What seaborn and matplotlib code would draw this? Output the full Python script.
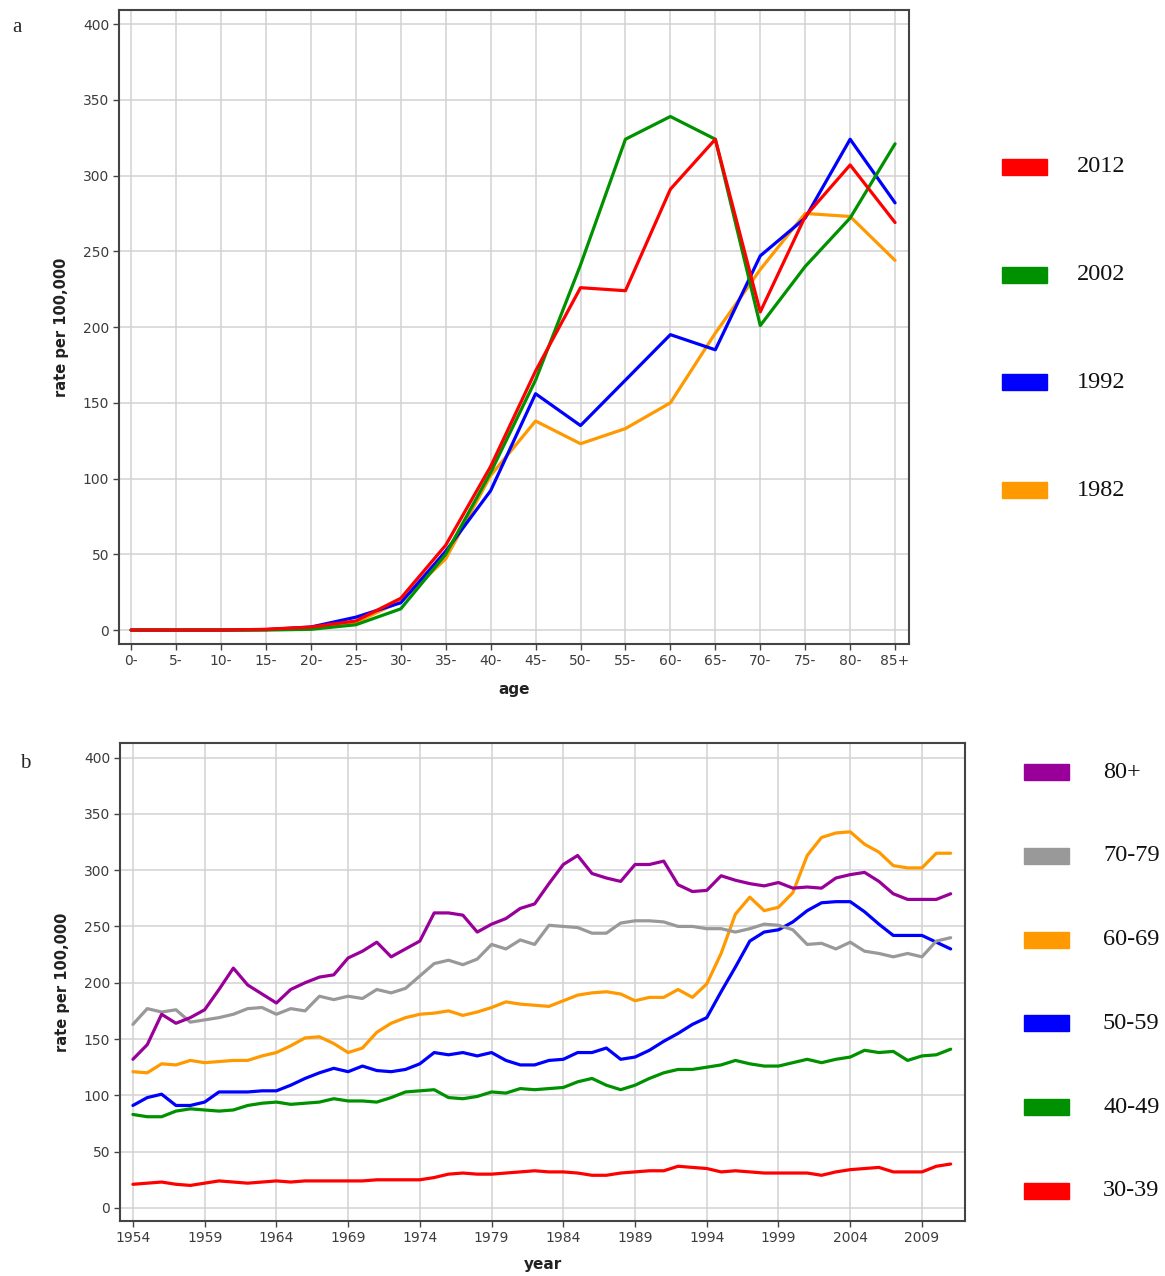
import matplotlib
matplotlib.use("Agg")
import numpy as np
import pandas as pd
import matplotlib.pyplot as plt
import seaborn as sns
from matplotlib.patches import Rectangle

# ---- panel a: rate by age group for four years ----
ages = ['0-', '5-', '10-', '15-', '20-', '25-', '30-', '35-', '40-', '45-',
        '50-', '55-', '60-', '65-', '70-', '75-', '80-', '85+']
rate_2012 = [0, 0, 0, 0.5, 2, 6, 21, 56, 108, 171, 226, 224, 291, 324, 210, 273, 307, 269]
rate_2002 = [0, 0, 0, 0, 0.5, 3.5, 14, 50, 104, 165, 241, 324, 339, 324, 201, 240, 272, 321]
rate_1992 = [0, 0, 0, 0.3, 2, 8.5, 18, 52, 92, 156, 135, 165, 195, 185, 247, 272, 324, 282]
rate_1982 = [0, 0, 0, 0.3, 1.5, 5, 19, 47, 102, 138, 123, 133, 150, 196, 238, 275, 273, 244]
years_a = ['2012', '2002', '1992', '1982']
colors_a = ['#ff0000', '#009100', '#0000ff', '#ff9900']

# ---- panel b: rate by calendar year for six age bands ----
years = list(range(1954, 2012))
r_80 = [132, 145, 172, 164, 169, 176, 194, 213, 198, 190,
        182, 194, 200, 205, 207, 222, 228, 236, 223, 230,
        237, 262, 262, 260, 245, 252, 257, 266, 270, 288,
        305, 313, 297, 293, 290, 305, 305, 308, 287, 281,
        282, 295, 291, 288, 286, 289, 284, 285, 284, 293,
        296, 298, 290, 279, 274, 274, 274, 279]
r_70 = [163, 177, 174, 176, 165, 167, 169, 172, 177, 178,
        172, 177, 175, 188, 185, 188, 186, 194, 191, 195,
        206, 217, 220, 216, 221, 234, 230, 238, 234, 251,
        250, 249, 244, 244, 253, 255, 255, 254, 250, 250,
        248, 248, 245, 248, 252, 251, 247, 234, 235, 230,
        236, 228, 226, 223, 226, 223, 237, 240]
r_60 = [121, 120, 128, 127, 131, 129, 130, 131, 131, 135,
        138, 144, 151, 152, 146, 138, 142, 156, 164, 169,
        172, 173, 175, 171, 174, 178, 183, 181, 180, 179,
        184, 189, 191, 192, 190, 184, 187, 187, 194, 187,
        199, 226, 261, 276, 264, 267, 280, 313, 329, 333,
        334, 323, 316, 304, 302, 302, 315, 315]
r_50 = [91, 98, 101, 91, 91, 94, 103, 103, 103, 104,
        104, 109, 115, 120, 124, 121, 126, 122, 121, 123,
        128, 138, 136, 138, 135, 138, 131, 127, 127, 131,
        132, 138, 138, 142, 132, 134, 140, 148, 155, 163,
        169, 192, 214, 237, 245, 247, 254, 264, 271, 272,
        272, 263, 252, 242, 242, 242, 236, 230]
r_40 = [83, 81, 81, 86, 88, 87, 86, 87, 91, 93,
        94, 92, 93, 94, 97, 95, 95, 94, 98, 103,
        104, 105, 98, 97, 99, 103, 102, 106, 105, 106,
        107, 112, 115, 109, 105, 109, 115, 120, 123, 123,
        125, 127, 131, 128, 126, 126, 129, 132, 129, 132,
        134, 140, 138, 139, 131, 135, 136, 141]
r_30 = [21, 22, 23, 21, 20, 22, 24, 23, 22, 23,
        24, 23, 24, 24, 24, 24, 24, 25, 25, 25,
        25, 27, 30, 31, 30, 30, 31, 32, 33, 32,
        32, 31, 29, 29, 31, 32, 33, 33, 37, 36,
        35, 32, 33, 32, 31, 31, 31, 31, 29, 32,
        34, 35, 36, 32, 32, 32, 37, 39]
bands = ['80+', '70-79', '60-69', '50-59', '40-49', '30-39']
colors_b = ['#990099', '#999999', '#ff9900', '#0000ff', '#009100', '#ff0000']

W, H = 1165, 1276
GRID = '#d2d2d2'
TXT = '#3c3c3c'

sns.set_theme(style="white")
plt.rcParams['font.family'] = ['DejaVu Sans']

df_a = pd.DataFrame({
    'pos': list(range(len(ages))) * 4,
    'rate': rate_2012 + rate_2002 + rate_1992 + rate_1982,
    'year': sum([[y] * len(ages) for y in years_a], []),
})
df_b = pd.DataFrame({
    'year': years * 6,
    'rate': r_80 + r_70 + r_60 + r_50 + r_40 + r_30,
    'band': sum([[b] * len(years) for b in bands], []),
})

fig = plt.figure(figsize=(W / 100, H / 100), dpi=100)
ax_a = fig.add_axes([119 / W, 1 - 644 / H, 790 / W, 634 / H])
ax_b = fig.add_axes([120 / W, 1 - 1221 / H, 845 / W, 478 / H])

# draw order: last in list is on top
sns.lineplot(data=df_a, x='pos', y='rate', hue='year',
             hue_order=years_a[::-1], palette=colors_a[::-1],
             linewidth=2.3, legend=False, ax=ax_a)
sns.lineplot(data=df_b, x='year', y='rate', hue='band',
             hue_order=bands[::-1], palette=colors_b[::-1],
             linewidth=2.3, legend=False, ax=ax_b)

ax_a.set_xticks(range(len(ages)))
ax_a.set_xticklabels(ages)
ax_a.set_xlim(-0.27, len(ages) - 1 + 0.31)
ax_a.set_ylim(-9.2, 409.3)
ax_a.set_xlabel('age', fontsize=11, fontweight='bold', color='#222222', labelpad=10)

ax_b.set_xticks(years[::5])
ax_b.set_xlim(years[0] - 0.9, years[-1] + 1.0)
ax_b.set_ylim(-11.6, 412.9)
ax_b.set_xlabel('year', fontsize=11, fontweight='bold', color='#222222', labelpad=9)

for ax in (ax_a, ax_b):
    ax.set_yticks(range(0, 401, 50))
    ax.set_ylabel('rate per 100,000', fontsize=10.5, fontweight='bold',
                  color='#222222', labelpad=10)
    ax.grid(True, color=GRID, linewidth=1.1)
    ax.set_axisbelow(True)
    ax.tick_params(axis='both', which='major', direction='out', length=4,
                   width=1, color='#444444', labelsize=10, labelcolor=TXT, pad=3,
                   bottom=True, left=True)
    for sp in ax.spines.values():
        sp.set_color('#444444')
        sp.set_linewidth(1.5)

# panel letters
fig.text(12 / W, 1 - 28 / H, 'a', family='Liberation Serif', fontsize=15,
         va='center', ha='left')
fig.text(20 / W, 1 - 763 / H, 'b', family='Liberation Serif', fontsize=15,
         va='center', ha='left')

# side legends drawn as colour blocks with serif labels
def side_legend(labels, colors, x0, y0, step, tx, ha):
    for i, (lab, col) in enumerate(zip(labels, colors)):
        yc = y0 + i * step
        fig.patches.append(Rectangle((x0 / W, 1 - (yc + 8) / H), 45 / W, 16 / H,
                                     transform=fig.transFigure, color=col,
                                     figure=fig))
        fig.text(tx / W, 1 - yc / H, lab, family='Liberation Serif',
                 fontsize=17.5, va='center', ha=ha, color='#111111')

side_legend(years_a, colors_a, 1002, 167, 107.7, 1101, 'center')
side_legend(bands, colors_b, 1024, 772, 83.8, 1103, 'left')

fig.savefig('out.png', dpi=100)
